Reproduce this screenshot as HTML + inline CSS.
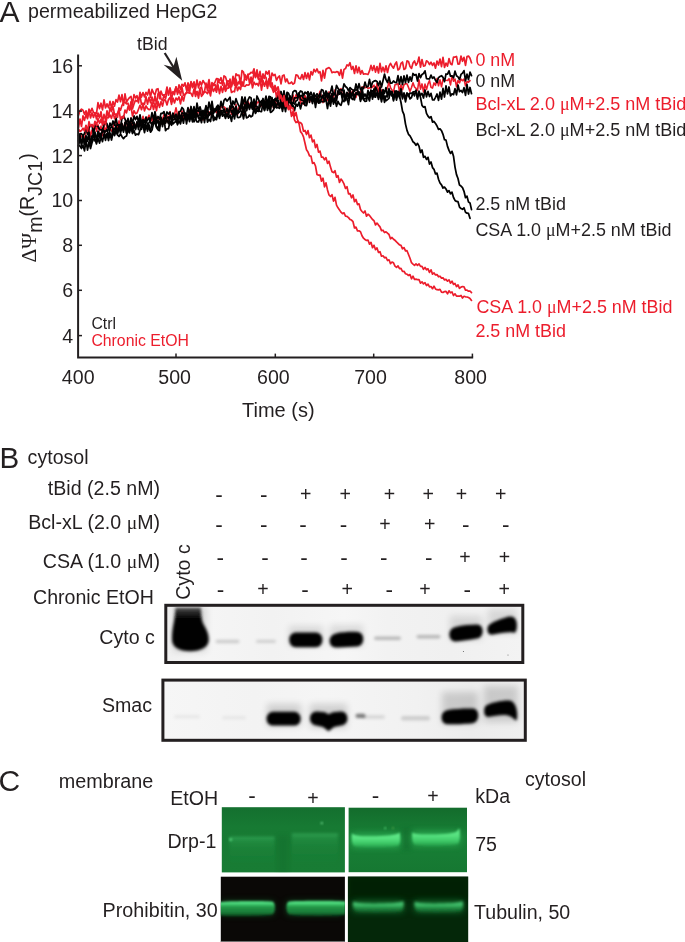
<!DOCTYPE html>
<html lang="en">
<head>
<meta charset="utf-8">
<title>Figure</title>
<style>
html,body{margin:0;padding:0;background:#fff;}
body{width:685px;height:942px;overflow:hidden;}
svg{display:block;}
svg text{font-family:"Liberation Sans",sans-serif;fill:#231f20;}
svg text.red{fill:#ec1d2c;}
.sym{font-family:"Liberation Serif",serif;}
</style>
</head>
<body>
<svg width="685" height="942" viewBox="0 0 685 942">
<defs>
<filter id="b1" x="-30%" y="-60%" width="160%" height="220%"><feGaussianBlur stdDeviation="1.6"/></filter>
<filter id="b2" x="-30%" y="-80%" width="160%" height="260%"><feGaussianBlur stdDeviation="2.4"/></filter>
<filter id="b3" x="-30%" y="-100%" width="160%" height="300%"><feGaussianBlur stdDeviation="1.2"/></filter>
<filter id="b4" x="-30%" y="-100%" width="160%" height="300%"><feGaussianBlur stdDeviation="3.5"/></filter>
</defs>
<rect width="685" height="942" fill="#fff"/>
<g opacity="0.999">

<!-- ================= PANEL A ================= -->
<text x="-0.6" y="21.5" font-size="30">A</text>
<text x="28" y="18.2" font-size="19.6">permeabilized HepG2</text>
<g id="traces">
<polyline points="78.5,135.9 80.0,133.9 81.5,136.9 83.0,135.6 84.5,138.9 86.0,132.5 87.5,131.5 89.0,127.9 90.5,136.5 92.0,130.0 93.5,132.1 95.0,124.9 96.5,131.2 98.0,124.8 99.5,131.0 101.0,126.0 102.5,135.7 104.0,125.7 105.5,131.9 107.0,125.0 108.5,127.8 110.0,128.9 111.5,131.1 113.0,127.7 114.5,122.1 116.0,122.4 117.5,129.5 119.0,120.8 120.5,126.8 122.0,124.2 123.5,129.7 125.0,122.3 126.5,121.3 128.0,130.3 129.5,129.7 131.0,117.8 132.5,126.6 134.0,124.6 135.5,126.1 137.0,122.4 138.5,127.1 140.0,118.3 141.5,124.6 143.0,116.2 144.5,122.0 146.0,117.2 147.5,118.6 149.0,115.2 150.5,122.5 152.0,117.6 153.5,122.5 155.0,115.3 156.5,117.6 158.0,117.8 159.5,125.1 161.0,121.7 162.5,119.5 164.0,114.6 165.5,122.8 167.0,115.7 168.5,121.0 170.0,111.5 171.5,120.2 173.0,116.4 174.5,114.4 176.0,107.7 177.5,114.9 179.0,116.2 180.5,118.4 182.0,110.8 183.5,118.1 185.0,113.6 186.5,120.5 188.0,113.3 189.5,109.6 191.0,113.7 192.5,116.8 194.0,111.9 195.5,114.5 197.0,116.4 198.5,110.1 200.0,112.2 201.5,114.9 203.0,119.9 204.5,118.0 206.0,107.8 207.5,116.9 209.0,111.8 210.5,114.6 212.0,110.9 213.5,111.3 215.0,109.7 216.5,112.6 218.0,107.5 219.5,113.7 221.0,106.0 222.5,107.5 224.0,106.7 225.5,108.3 227.0,113.6 228.5,110.5 230.0,106.3 231.5,114.3 233.0,107.0 234.5,112.0 236.0,104.4 237.5,115.0 239.0,106.7 240.5,109.1 242.0,106.7 243.5,113.6 245.0,102.1 246.5,105.4 248.0,101.4 249.5,105.1 251.0,103.3 252.5,108.0 254.0,110.2 255.5,107.4 257.0,102.8 258.5,101.5 260.0,104.6 261.5,106.0 263.0,101.6 264.5,108.2 266.0,100.7 267.5,102.2 269.0,103.2 270.5,101.6 272.0,100.6 273.5,108.0 275.0,99.5 276.5,106.9 278.0,100.9 279.5,107.5 281.0,101.2 282.5,108.7 284.0,99.6 285.5,103.8 287.0,96.3 288.5,103.3 290.0,98.1 291.5,102.5 293.0,95.0 294.5,101.1 296.0,94.8 297.5,97.9 299.0,95.3 300.5,103.4 302.0,96.3 303.5,104.1 305.0,95.5 306.5,101.0 308.0,95.6 309.5,102.2 311.0,96.8 312.5,101.8 314.0,94.8 315.5,101.4 317.0,101.9 318.5,96.8 320.0,91.3 321.5,97.2 323.0,102.6 324.5,99.0 326.0,93.4 327.5,100.4 329.0,91.9 330.5,99.3 332.0,93.7 333.5,97.2 335.0,89.9 336.5,98.3 338.0,94.3 339.5,89.9 341.0,88.6 342.5,96.7 344.0,92.1 345.5,97.2 347.0,95.8 348.5,95.1 350.0,90.0 351.5,94.4 353.0,90.2 354.5,96.1 356.0,97.4 357.5,91.0 359.0,95.3 360.5,92.5 362.0,87.0 363.5,86.8 365.0,87.7 366.5,87.0 368.0,88.3 369.5,87.9 371.0,88.0 372.5,87.0 374.0,85.2 375.5,91.7 377.0,83.3 378.5,91.9 380.0,86.1 381.5,91.9 383.0,90.2 384.5,91.5 386.0,90.5 387.5,87.8 389.0,81.7 390.5,87.7 392.0,90.1 393.5,91.9 395.0,84.7 396.5,84.4 398.0,83.6 399.5,91.7 401.0,84.8 402.5,89.7 404.0,84.7 405.5,83.8 407.0,83.8 408.5,87.4 410.0,91.4 411.5,87.5 413.0,82.8 414.5,87.0 416.0,88.4 417.5,90.5 419.0,79.7 420.5,89.1 422.0,83.9 423.5,91.9 425.0,84.1 426.5,89.5 428.0,83.9 429.5,80.6 431.0,87.2 432.5,88.1 434.0,82.9 435.5,85.3 437.0,78.5 438.5,85.8 440.0,79.8 441.5,86.8 443.0,79.3 444.5,80.0 446.0,80.3 447.5,80.5 449.0,78.7 450.5,84.9 452.0,75.7 453.5,81.2 455.0,79.0 456.5,86.7 458.0,80.5 459.5,82.9 461.0,79.0 462.5,80.7 464.0,79.0 465.5,85.8 467.0,81.5 468.5,82.2 470.0,80.6" fill="none" stroke="#ec1d2c" stroke-width="1.6" stroke-linejoin="round" stroke-linecap="round"/>
<polyline points="78.5,145.7 80.0,146.0 81.5,148.5 83.0,145.3 84.5,150.8 86.0,140.3 87.5,150.1 89.0,142.0 90.5,148.5 92.0,142.7 93.5,139.2 95.0,139.4 96.5,143.9 98.0,138.2 99.5,143.1 101.0,136.7 102.5,141.7 104.0,134.1 105.5,140.3 107.0,133.6 108.5,140.5 110.0,133.0 111.5,140.0 113.0,133.1 114.5,134.8 116.0,131.1 117.5,135.0 119.0,136.5 120.5,134.0 122.0,136.7 123.5,138.6 125.0,136.7 126.5,136.0 128.0,129.6 129.5,132.8 131.0,127.6 132.5,133.5 134.0,130.6 135.5,135.2 137.0,133.9 138.5,134.7 140.0,130.2 141.5,127.4 143.0,125.6 144.5,132.6 146.0,125.0 147.5,131.1 149.0,124.8 150.5,132.2 152.0,130.0 153.5,123.6 155.0,122.9 156.5,127.5 158.0,129.7 159.5,130.7 161.0,118.6 162.5,126.7 164.0,118.4 165.5,130.7 167.0,128.8 168.5,128.7 170.0,121.1 171.5,125.3 173.0,119.5 174.5,119.5 176.0,120.1 177.5,124.8 179.0,120.9 180.5,123.9 182.0,117.1 183.5,115.0 185.0,115.2 186.5,114.7 188.0,115.4 189.5,121.6 191.0,115.6 192.5,121.9 194.0,115.2 195.5,118.5 197.0,121.9 198.5,121.9 200.0,117.4 201.5,122.7 203.0,113.4 204.5,122.6 206.0,112.6 207.5,122.1 209.0,119.3 210.5,121.6 212.0,112.2 213.5,120.6 215.0,119.0 216.5,119.6 218.0,113.0 219.5,118.3 221.0,111.3 222.5,116.2 224.0,114.1 225.5,118.4 227.0,113.6 228.5,118.1 230.0,114.9 231.5,121.3 233.0,111.7 234.5,118.9 236.0,109.4 237.5,117.3 239.0,117.6 240.5,116.8 242.0,111.0 243.5,118.8 245.0,110.8 246.5,117.9 248.0,117.2 249.5,115.1 251.0,116.8 252.5,115.7 254.0,108.5 255.5,113.4 257.0,110.4 258.5,111.4 260.0,107.0 261.5,103.6 263.0,106.2 264.5,110.0 266.0,102.8 267.5,110.3 269.0,105.1 270.5,112.4 272.0,111.4 273.5,109.8 275.0,106.0 276.5,107.7 278.0,107.7 279.5,107.8 281.0,104.1 282.5,111.4 284.0,103.0 285.5,111.6 287.0,101.6 288.5,105.3 290.0,108.2 291.5,106.5 293.0,105.5 294.5,110.6 296.0,104.1 297.5,106.1 299.0,102.2 300.5,108.8 302.0,103.0 303.5,103.4 305.0,98.3 306.5,104.0 308.0,97.5 309.5,97.4 311.0,98.1 312.5,103.5 314.0,96.3 315.5,107.5 317.0,97.1 318.5,103.0 320.0,99.9 321.5,101.6 323.0,101.6 324.5,101.0 326.0,99.6 327.5,108.5 329.0,99.1 330.5,106.1 332.0,97.2 333.5,104.1 335.0,99.5 336.5,106.3 338.0,101.3 339.5,104.3 341.0,105.3 342.5,100.2 344.0,101.6 345.5,96.4 347.0,98.3 348.5,104.6 350.0,93.9 351.5,98.5 353.0,99.5 354.5,94.6 356.0,94.4 357.5,92.4 359.0,92.0 360.5,101.4 362.0,95.7 363.5,99.7 365.0,101.3 366.5,101.2 368.0,91.6 369.5,92.8 371.0,94.0 372.5,90.8 374.0,90.5 375.5,94.3 377.0,94.6 378.5,97.5 380.0,94.0 381.5,101.8 383.0,94.1 384.5,102.4 386.0,95.9 387.5,96.5 389.0,91.6 390.5,93.9 392.0,96.1 393.5,95.4 395.0,93.0 396.5,100.1 398.0,93.0 399.5,97.8 401.0,89.3 402.5,98.8 404.0,92.9 405.5,98.5 407.0,92.8 408.5,96.5 410.0,93.0 411.5,93.4 413.0,92.2 414.5,91.7 416.0,91.9 417.5,99.0 419.0,91.2 420.5,95.3 422.0,93.4 423.5,98.0 425.0,90.0 426.5,96.8 428.0,91.4 429.5,96.5 431.0,93.4 432.5,99.9 434.0,100.0 435.5,97.3 437.0,94.0 438.5,100.3 440.0,92.1 441.5,99.1 443.0,88.4 444.5,97.0 446.0,85.9 447.5,93.9 449.0,87.0 450.5,95.9 452.0,93.8 453.5,94.7 455.0,88.7 456.5,94.9 458.0,85.0 459.5,91.7 461.0,90.4 462.5,92.6 464.0,87.7 465.5,95.4 467.0,84.4 468.5,94.0 470.0,87.5 471.5,93.7" fill="none" stroke="#000" stroke-width="1.75" stroke-linejoin="round" stroke-linecap="round"/>
<polyline points="78.5,140.8 80.0,135.2 81.5,146.1 83.0,136.6 84.5,144.7 86.0,137.4 87.5,140.4 89.0,132.2 90.5,143.4 92.0,140.4 93.5,132.4 95.0,140.9 96.5,141.4 98.0,133.7 99.5,138.0 101.0,133.1 102.5,131.9 104.0,131.3 105.5,136.8 107.0,133.9 108.5,137.7 110.0,129.1 111.5,126.3 113.0,128.5 114.5,129.4 116.0,126.2 117.5,132.5 119.0,125.5 120.5,129.2 122.0,123.3 123.5,132.1 125.0,122.4 126.5,132.6 128.0,126.4 129.5,130.4 131.0,123.5 132.5,131.0 134.0,122.1 135.5,128.7 137.0,123.0 138.5,126.5 140.0,119.5 141.5,129.3 143.0,121.8 144.5,128.0 146.0,119.8 147.5,120.4 149.0,117.8 150.5,122.5 152.0,124.5 153.5,121.2 155.0,117.3 156.5,123.9 158.0,120.3 159.5,126.6 161.0,117.2 162.5,123.4 164.0,117.8 165.5,123.2 167.0,117.8 168.5,116.9 170.0,122.0 171.5,124.4 173.0,113.5 174.5,119.1 176.0,114.1 177.5,120.2 179.0,112.9 180.5,118.7 182.0,112.9 183.5,113.5 185.0,113.1 186.5,119.9 188.0,114.1 189.5,119.8 191.0,111.5 192.5,119.2 194.0,110.2 195.5,118.8 197.0,110.2 198.5,111.2 200.0,111.1 201.5,118.8 203.0,118.2 204.5,112.7 206.0,108.8 207.5,119.0 209.0,113.6 210.5,112.3 212.0,112.6 213.5,116.2 215.0,118.9 216.5,116.7 218.0,111.1 219.5,113.4 221.0,110.3 222.5,115.1 224.0,108.6 225.5,114.7 227.0,116.1 228.5,114.1 230.0,107.9 231.5,107.2 233.0,106.2 234.5,111.4 236.0,106.3 237.5,113.6 239.0,112.4 240.5,110.9 242.0,101.9 243.5,112.2 245.0,104.6 246.5,110.7 248.0,103.8 249.5,109.4 251.0,103.7 252.5,109.3 254.0,104.0 255.5,106.0 257.0,106.3 258.5,110.2 260.0,111.4 261.5,111.6 263.0,102.7 264.5,110.6 266.0,103.8 267.5,106.8 269.0,103.4 270.5,110.4 272.0,100.9 273.5,107.2 275.0,102.7 276.5,107.7 278.0,100.0 279.5,108.3 281.0,98.1 282.5,106.8 284.0,97.8 285.5,102.6 287.0,96.3 288.5,102.7 290.0,102.2 291.5,105.2 293.0,103.2 294.5,97.8 296.0,98.0 297.5,97.4 299.0,94.8 300.5,96.3 302.0,95.1 303.5,98.6 305.0,98.6 306.5,103.8 308.0,93.3 309.5,102.3 311.0,96.4 312.5,98.6 314.0,93.0 315.5,103.8 317.0,96.2 318.5,102.8 320.0,102.8 321.5,98.2 323.0,95.1 324.5,101.7 326.0,94.2 327.5,95.7 329.0,97.8 330.5,97.4 332.0,94.1 333.5,101.1 335.0,97.8 336.5,97.5 338.0,94.0 339.5,91.9 341.0,92.0 342.5,100.0 344.0,90.2 345.5,100.6 347.0,92.5 348.5,96.4 350.0,91.7 351.5,95.6 353.0,91.8 354.5,99.8 356.0,92.4 357.5,94.5 359.0,93.8 360.5,99.8 362.0,90.8 363.5,99.1 365.0,98.9 366.5,98.1 368.0,97.2 369.5,100.9 371.0,91.0 372.5,99.2 374.0,88.8 375.5,97.2 377.0,92.7 378.5,98.0 380.0,91.6 381.5,99.0 383.0,92.6 384.5,97.4 386.0,100.8 387.5,99.6 389.0,98.4 390.5,91.4 392.0,91.5 393.5,100.8 395.0,92.4 396.5,91.0 398.0,95.1 399.5,96.1 401.0,102.5 402.5,111.2 404.0,114.7 405.5,124.1 407.0,130.4 408.5,134.3 410.0,135.9 411.5,138.7 413.0,141.8 414.5,143.0 416.0,145.3 417.5,143.4 419.0,146.1 420.5,152.5 422.0,150.0 423.5,157.3 425.0,156.3 426.5,159.4 428.0,157.3 429.5,164.1 431.0,162.0 432.5,167.6 434.0,169.3 435.5,173.9 437.0,173.1 438.5,179.2 440.0,183.0 441.5,184.9 443.0,188.0 444.5,187.1 446.0,189.0 447.5,192.1 449.0,190.6 450.5,193.8 452.0,192.2 453.5,197.5 455.0,200.4 456.5,201.4 458.0,201.7 459.5,207.1 461.0,208.5 462.5,209.3 464.0,207.8 465.5,212.2 467.0,213.2 468.5,213.4 470.0,218.3" fill="none" stroke="#000" stroke-width="1.75" stroke-linejoin="round" stroke-linecap="round"/>
<polyline points="78.5,146.0 80.0,138.4 81.5,143.2 83.0,135.5 84.5,144.7 86.0,135.7 87.5,141.4 89.0,135.0 90.5,144.0 92.0,135.9 93.5,137.0 95.0,132.2 96.5,140.8 98.0,131.2 99.5,133.6 101.0,137.6 102.5,129.3 104.0,130.8 105.5,131.8 107.0,129.5 108.5,134.6 110.0,136.2 111.5,137.2 113.0,128.3 114.5,135.7 116.0,124.8 117.5,134.0 119.0,127.2 120.5,133.1 122.0,127.4 123.5,130.8 125.0,124.1 126.5,133.4 128.0,123.4 129.5,129.0 131.0,126.1 132.5,131.8 134.0,124.5 135.5,129.6 137.0,121.7 138.5,129.7 140.0,120.9 141.5,127.6 143.0,123.4 144.5,128.6 146.0,126.9 147.5,125.7 149.0,129.2 150.5,130.8 152.0,122.6 153.5,122.0 155.0,121.3 156.5,126.6 158.0,128.4 159.5,123.4 161.0,119.8 162.5,124.2 164.0,119.1 165.5,122.1 167.0,120.2 168.5,123.6 170.0,116.6 171.5,119.5 173.0,123.9 174.5,122.3 176.0,121.6 177.5,122.2 179.0,114.9 180.5,121.0 182.0,116.8 183.5,123.2 185.0,113.0 186.5,123.9 188.0,115.9 189.5,114.0 191.0,112.5 192.5,115.3 194.0,121.9 195.5,119.1 197.0,113.8 198.5,118.1 200.0,111.5 201.5,116.0 203.0,110.3 204.5,115.2 206.0,106.7 207.5,109.7 209.0,115.3 210.5,113.6 212.0,106.2 213.5,113.4 215.0,108.6 216.5,110.7 218.0,107.1 219.5,115.6 221.0,111.2 222.5,110.4 224.0,111.0 225.5,112.8 227.0,108.4 228.5,114.1 230.0,106.0 231.5,112.6 233.0,110.0 234.5,115.7 236.0,109.4 237.5,112.9 239.0,109.8 240.5,105.9 242.0,107.9 243.5,111.5 245.0,105.1 246.5,110.3 248.0,103.0 249.5,108.3 251.0,102.5 252.5,108.8 254.0,104.6 255.5,111.5 257.0,107.7 258.5,109.0 260.0,102.0 261.5,102.6 263.0,98.5 264.5,105.7 266.0,101.3 267.5,107.3 269.0,98.0 270.5,105.3 272.0,97.6 273.5,105.9 275.0,98.6 276.5,101.0 278.0,95.6 279.5,98.5 281.0,98.8 282.5,102.1 284.0,96.6 285.5,105.3 287.0,93.8 288.5,102.7 290.0,95.9 291.5,103.9 293.0,102.6 294.5,104.0 296.0,101.1 297.5,100.1 299.0,92.9 300.5,99.4 302.0,100.3 303.5,100.5 305.0,105.5 306.5,105.6 308.0,95.7 309.5,99.1 311.0,98.0 312.5,99.3 314.0,99.6 315.5,99.1 317.0,98.5 318.5,100.9 320.0,93.3 321.5,98.8 323.0,95.6 324.5,95.2 326.0,93.1 327.5,98.7 329.0,93.5 330.5,101.3 332.0,93.5 333.5,93.3 335.0,93.6 336.5,100.8 338.0,90.7 339.5,94.1 341.0,92.6 342.5,97.5 344.0,91.1 345.5,100.2 347.0,92.7 348.5,98.4 350.0,90.2 351.5,97.7 353.0,92.0 354.5,90.5 356.0,89.8 357.5,90.4 359.0,92.4 360.5,97.2 362.0,87.3 363.5,97.5 365.0,94.0 366.5,97.8 368.0,90.4 369.5,97.9 371.0,90.0 372.5,94.7 374.0,97.1 375.5,87.2 377.0,90.4 378.5,99.3 380.0,87.3 381.5,97.3 383.0,89.7 384.5,93.2 386.0,87.6 387.5,96.8 389.0,88.7 390.5,93.7 392.0,92.6 393.5,99.5 395.0,90.9 396.5,96.5 398.0,91.3 399.5,95.4 401.0,88.8 402.5,97.0 404.0,94.2 405.5,101.9 407.0,94.9 408.5,94.0 410.0,98.9 411.5,97.5 413.0,92.5 414.5,95.9 416.0,90.1 417.5,97.0 419.0,93.4 420.5,97.3 422.0,105.4 423.5,107.2 425.0,106.6 426.5,113.4 428.0,116.2 429.5,117.9 431.0,116.6 432.5,122.1 434.0,121.4 435.5,123.4 437.0,126.0 438.5,129.4 440.0,128.8 441.5,130.7 443.0,134.3 444.5,139.7 446.0,140.1 447.5,146.4 449.0,150.4 450.5,153.4 452.0,151.3 453.5,156.2 455.0,167.1 456.5,174.6 458.0,178.5 459.5,185.1 461.0,186.1 462.5,187.6 464.0,191.3 465.5,197.7 467.0,196.2 468.5,202.1 470.0,202.9 471.5,209.6" fill="none" stroke="#000" stroke-width="1.75" stroke-linejoin="round" stroke-linecap="round"/>
<polyline points="78.5,135.2 80.0,133.9 81.5,133.7 83.0,135.7 84.5,133.5 86.0,126.3 87.5,134.2 89.0,127.2 90.5,125.5 92.0,125.1 93.5,134.5 95.0,124.8 96.5,126.0 98.0,126.4 99.5,129.5 101.0,129.9 102.5,129.7 104.0,124.8 105.5,121.9 107.0,123.8 108.5,130.0 110.0,123.1 111.5,126.5 113.0,121.0 114.5,125.2 116.0,117.9 117.5,125.3 119.0,124.6 120.5,126.9 122.0,118.0 123.5,116.0 125.0,119.0 126.5,123.8 128.0,118.4 129.5,125.8 131.0,118.1 132.5,123.5 134.0,115.8 135.5,119.7 137.0,116.4 138.5,122.0 140.0,114.9 141.5,122.8 143.0,119.6 144.5,122.3 146.0,117.2 147.5,126.2 149.0,122.6 150.5,120.2 152.0,112.7 153.5,119.6 155.0,111.6 156.5,120.3 158.0,116.5 159.5,119.4 161.0,113.4 162.5,113.3 164.0,111.7 165.5,118.2 167.0,112.0 168.5,114.0 170.0,112.3 171.5,119.8 173.0,113.2 174.5,117.5 176.0,119.5 177.5,119.0 179.0,111.7 180.5,111.3 182.0,107.5 183.5,109.4 185.0,116.4 186.5,115.1 188.0,107.7 189.5,115.6 191.0,106.5 192.5,114.4 194.0,106.7 195.5,114.4 197.0,103.1 198.5,110.9 200.0,106.8 201.5,112.3 203.0,111.9 204.5,113.1 206.0,105.6 207.5,111.9 209.0,102.1 210.5,109.7 212.0,101.4 213.5,111.3 215.0,111.8 216.5,107.0 218.0,105.1 219.5,109.7 221.0,101.4 222.5,107.8 224.0,100.3 225.5,98.7 227.0,101.1 228.5,99.3 230.0,97.2 231.5,108.0 233.0,101.0 234.5,104.5 236.0,98.7 237.5,103.2 239.0,106.0 240.5,107.5 242.0,96.9 243.5,103.8 245.0,97.2 246.5,106.0 248.0,99.9 249.5,97.0 251.0,97.8 252.5,107.1 254.0,99.1 255.5,106.7 257.0,96.0 258.5,99.4 260.0,102.9 261.5,100.8 263.0,103.0 264.5,102.1 266.0,96.1 267.5,104.3 269.0,96.4 270.5,96.8 272.0,103.1 273.5,99.9 275.0,100.5 276.5,97.2 278.0,95.0 279.5,99.6 281.0,91.5 282.5,99.2 284.0,90.8 285.5,101.3 287.0,92.3 288.5,93.2 290.0,97.2 291.5,99.8 293.0,91.9 294.5,90.6 296.0,90.9 297.5,95.6 299.0,93.5 300.5,91.0 302.0,91.6 303.5,95.9 305.0,92.1 306.5,93.7 308.0,91.6 309.5,95.9 311.0,92.2 312.5,96.2 314.0,97.1 315.5,96.1 317.0,93.8 318.5,96.1 320.0,95.9 321.5,89.6 323.0,90.2 324.5,95.9 326.0,91.0 327.5,93.9 329.0,94.8 330.5,92.3 332.0,86.2 333.5,95.0 335.0,93.9 336.5,85.3 338.0,88.4 339.5,90.3 341.0,89.7 342.5,90.8 344.0,83.9 345.5,86.5 347.0,87.7 348.5,90.8 350.0,87.6 351.5,89.2 353.0,89.9 354.5,91.2 356.0,84.0 357.5,90.3 359.0,83.7 360.5,89.6 362.0,88.0 363.5,88.6 365.0,82.1 366.5,87.0 368.0,86.5 369.5,79.4 371.0,87.4 372.5,82.3 374.0,81.1 375.5,80.6 377.0,81.4 378.5,85.7 380.0,81.1 381.5,87.0 383.0,80.8 384.5,74.1 386.0,79.7 387.5,82.5 389.0,77.0 390.5,83.2 392.0,83.1 393.5,80.9 395.0,82.4 396.5,82.7 398.0,75.7 399.5,84.1 401.0,76.6 402.5,84.7 404.0,75.9 405.5,82.7 407.0,75.2 408.5,82.3 410.0,76.9 411.5,81.1 413.0,73.5 414.5,75.2 416.0,74.4 417.5,81.0 419.0,73.6 420.5,77.6 422.0,74.4 423.5,73.5 425.0,70.8 426.5,78.7 428.0,78.8 429.5,78.8 431.0,75.1 432.5,78.3 434.0,77.0 435.5,80.3 437.0,82.5 438.5,77.6 440.0,76.5 441.5,75.7 443.0,77.3 444.5,81.6 446.0,74.0 447.5,74.1 449.0,70.8 450.5,76.2 452.0,75.8 453.5,77.7 455.0,71.2 456.5,75.8 458.0,76.9 459.5,79.5 461.0,74.4 462.5,73.1 464.0,70.6 465.5,80.8 467.0,74.2 468.5,79.7 470.0,72.2 471.5,75.7" fill="none" stroke="#000" stroke-width="1.75" stroke-linejoin="round" stroke-linecap="round"/>
<polyline points="78.5,115.3 80.0,110.6 81.5,109.1 83.0,110.2 84.5,114.1 86.0,110.8 87.5,117.0 89.0,109.2 90.5,112.4 92.0,108.3 93.5,112.5 95.0,113.1 96.5,113.5 98.0,102.7 99.5,108.6 101.0,103.2 102.5,109.8 104.0,99.9 105.5,108.0 107.0,103.9 108.5,107.8 110.0,101.4 111.5,107.9 113.0,101.5 114.5,106.1 116.0,99.6 117.5,102.0 119.0,95.2 120.5,101.7 122.0,94.6 123.5,105.4 125.0,93.8 126.5,102.2 128.0,99.5 129.5,97.6 131.0,96.4 132.5,104.4 134.0,94.7 135.5,98.0 137.0,95.6 138.5,102.9 140.0,92.3 141.5,97.1 143.0,92.5 144.5,96.9 146.0,92.3 147.5,95.0 149.0,89.3 150.5,97.4 152.0,89.3 153.5,92.9 155.0,94.9 156.5,89.3 158.0,88.7 159.5,98.7 161.0,91.2 162.5,95.2 164.0,94.8 165.5,94.5 167.0,87.0 168.5,95.2 170.0,87.9 171.5,93.7 173.0,93.4 174.5,91.6 176.0,87.0 177.5,92.1 179.0,84.8 180.5,89.5 182.0,84.3 183.5,86.2 185.0,82.8 186.5,90.0 188.0,82.8 189.5,87.8 191.0,82.4 192.5,85.8 194.0,81.8 195.5,88.8 197.0,80.0 198.5,87.8 200.0,81.6 201.5,85.1 203.0,80.5 204.5,83.2 206.0,85.9 207.5,86.3 209.0,79.7 210.5,88.5 212.0,86.4 213.5,84.0 215.0,82.2 216.5,78.6 218.0,78.8 219.5,80.8 221.0,77.7 222.5,85.1 224.0,75.9 225.5,77.0 227.0,81.7 228.5,80.9 230.0,82.3 231.5,85.3 233.0,76.3 234.5,82.7 236.0,73.8 237.5,75.3 239.0,75.2 240.5,84.1 242.0,70.7 243.5,72.1 245.0,79.1 246.5,80.1 248.0,74.9 249.5,74.1 251.0,72.4 252.5,73.0 254.0,68.9 255.5,77.6 257.0,69.9 258.5,79.4 260.0,71.3 261.5,80.7 263.0,73.9 264.5,78.4 266.0,71.4 267.5,74.0 269.0,70.8 270.5,83.4 272.0,73.0 273.5,75.6 275.0,74.4 276.5,80.4 278.0,77.3 279.5,76.0 281.0,83.9 282.5,75.7 284.0,75.0 285.5,81.9 287.0,78.9 288.5,83.3 290.0,83.4 291.5,82.0 293.0,84.2 294.5,83.0 296.0,74.8 297.5,75.2 299.0,78.3 300.5,78.9 302.0,74.6 303.5,79.5 305.0,72.7 306.5,78.5 308.0,73.0 309.5,79.8 311.0,71.7 312.5,74.9 314.0,69.3 315.5,71.9 317.0,68.9 318.5,72.8 320.0,71.7 321.5,80.8 323.0,70.3 324.5,78.1 326.0,69.3 327.5,68.2 329.0,67.6 330.5,69.0 332.0,72.6 333.5,72.0 335.0,72.4 336.5,71.7 338.0,71.8 339.5,75.3 341.0,69.6 342.5,78.1 344.0,69.4 345.5,68.6 347.0,64.9 348.5,65.9 350.0,62.7 351.5,69.4 353.0,66.5 354.5,73.5 356.0,65.8 357.5,72.7 359.0,67.2 360.5,74.1 362.0,70.6 363.5,74.2 365.0,73.8 366.5,74.0 368.0,74.5 369.5,70.9 371.0,65.4 372.5,70.4 374.0,65.6 375.5,72.1 377.0,66.5 378.5,73.0 380.0,63.4 381.5,71.8 383.0,67.2 384.5,72.0 386.0,65.8 387.5,72.5 389.0,66.1 390.5,63.3 392.0,66.2 393.5,68.1 395.0,64.3 396.5,62.0 398.0,70.0 399.5,68.9 401.0,63.4 402.5,62.0 404.0,69.5 405.5,68.6 407.0,60.9 408.5,61.5 410.0,66.5 411.5,68.4 413.0,63.0 414.5,60.9 416.0,65.3 417.5,62.9 419.0,57.0 420.5,67.1 422.0,59.5 423.5,66.1 425.0,65.7 426.5,60.8 428.0,61.9 429.5,64.5 431.0,62.2 432.5,65.4 434.0,62.9 435.5,68.2 437.0,61.0 438.5,65.0 440.0,59.0 441.5,66.7 443.0,57.3 444.5,67.4 446.0,63.0 447.5,66.2 449.0,58.6 450.5,63.7 452.0,64.7 453.5,57.1 455.0,57.1 456.5,56.4 458.0,64.2 459.5,63.9 461.0,56.0 462.5,61.3 464.0,57.3 465.5,65.3 467.0,56.6 468.5,56.0 470.0,58.3 471.5,62.8" fill="none" stroke="#ec1d2c" stroke-width="1.7" stroke-linejoin="round" stroke-linecap="round"/>
<polyline points="78.5,127.7 80.0,119.0 81.5,126.5 83.0,115.8 84.5,120.4 86.0,114.4 87.5,118.7 89.0,110.4 90.5,117.9 92.0,112.9 93.5,117.4 95.0,112.5 96.5,119.0 98.0,113.0 99.5,117.7 101.0,111.7 102.5,122.4 104.0,114.4 105.5,120.1 107.0,110.8 108.5,117.5 110.0,107.7 111.5,111.5 113.0,106.3 114.5,114.4 116.0,114.0 117.5,117.3 119.0,107.9 120.5,110.3 122.0,105.3 123.5,102.6 125.0,102.2 126.5,103.8 128.0,103.2 129.5,110.1 131.0,101.7 132.5,108.8 134.0,104.0 135.5,100.1 137.0,101.3 138.5,99.3 140.0,95.8 141.5,104.5 143.0,103.1 144.5,104.3 146.0,96.6 147.5,104.2 149.0,97.4 150.5,102.8 152.0,97.0 153.5,103.6 155.0,96.0 156.5,104.0 158.0,93.8 159.5,92.5 161.0,99.0 162.5,100.7 164.0,95.2 165.5,98.7 167.0,92.5 168.5,92.5 170.0,91.8 171.5,99.7 173.0,91.5 174.5,94.7 176.0,86.9 177.5,94.3 179.0,90.1 180.5,95.1 182.0,87.3 183.5,95.5 185.0,94.3 186.5,92.8 188.0,87.0 189.5,93.2 191.0,81.5 192.5,87.7 194.0,83.5 195.5,93.7 197.0,91.9 198.5,94.8 200.0,88.4 201.5,86.9 203.0,93.6 204.5,91.3 206.0,83.2 207.5,90.6 209.0,84.2 210.5,91.8 212.0,82.5 213.5,85.6 215.0,84.3 216.5,90.0 218.0,80.1 219.5,82.8 221.0,83.4 222.5,81.0 224.0,83.1 225.5,89.9 227.0,80.8 228.5,87.4 230.0,79.0 231.5,86.8 233.0,80.5 234.5,85.1 236.0,79.1 237.5,85.0 239.0,81.5 240.5,84.4 242.0,86.2 243.5,84.8 245.0,74.5 246.5,78.3 248.0,74.1 249.5,83.2 251.0,77.1 252.5,81.9 254.0,72.1 255.5,76.9 257.0,74.5 258.5,78.6 260.0,80.4 261.5,81.9 263.0,77.8 264.5,76.4 266.0,77.4 267.5,86.4 269.0,78.5 270.5,86.4 272.0,82.7 273.5,89.4 275.0,85.5 276.5,90.2 278.0,86.8 279.5,93.5 281.0,97.2 282.5,101.4 284.0,95.5 285.5,104.6 287.0,106.1 288.5,108.9 290.0,105.1 291.5,107.8 293.0,108.1 294.5,116.2 296.0,112.5 297.5,119.8 299.0,122.5 300.5,122.6 302.0,124.4 303.5,131.2 305.0,130.4 306.5,134.5 308.0,130.6 309.5,137.7 311.0,135.1 312.5,141.8 314.0,140.0 315.5,147.6 317.0,144.4 318.5,152.2 320.0,151.1 321.5,157.2 323.0,157.1 324.5,159.8 326.0,157.6 327.5,163.4 329.0,161.2 330.5,167.1 332.0,171.7 333.5,172.6 335.0,170.7 336.5,177.1 338.0,175.6 339.5,182.5 341.0,179.1 342.5,181.1 344.0,183.9 345.5,188.4 347.0,186.7 348.5,193.9 350.0,193.5 351.5,197.8 353.0,195.0 354.5,201.7 356.0,199.4 357.5,204.6 359.0,203.8 360.5,209.5 362.0,211.5 363.5,213.0 365.0,211.0 366.5,216.2 368.0,214.2 369.5,215.5 371.0,217.5 372.5,219.5 374.0,220.7 375.5,224.9 377.0,223.1 378.5,225.1 380.0,226.9 381.5,230.6 383.0,230.2 384.5,232.6 386.0,231.8 387.5,233.2 389.0,234.5 390.5,238.8 392.0,237.5 393.5,239.2 395.0,240.3 396.5,241.9 398.0,243.3 399.5,244.9 401.0,245.3 402.5,248.8 404.0,247.6 405.5,250.9 407.0,250.7 408.5,254.5 410.0,258.2 411.5,262.7 413.0,264.1 414.5,265.3 416.0,263.8 417.5,265.3 419.0,263.9 420.5,266.4 422.0,266.3 423.5,269.3 425.0,267.5 426.5,269.8 428.0,268.8 429.5,272.4 431.0,269.8 432.5,274.1 434.0,272.9 435.5,274.9 437.0,274.6 438.5,276.8 440.0,276.2 441.5,278.1 443.0,277.8 444.5,279.9 446.0,279.4 447.5,281.2 449.0,279.9 450.5,283.1 452.0,281.2 453.5,284.4 455.0,283.5 456.5,286.6 458.0,284.9 459.5,288.3 461.0,287.1 462.5,286.5 464.0,286.8 465.5,290.2 467.0,290.1 468.5,291.2 470.0,291.0 471.5,292.6" fill="none" stroke="#ec1d2c" stroke-width="1.7" stroke-linejoin="round" stroke-linecap="round"/>
<polyline points="78.5,129.1 80.0,131.5 81.5,130.6 83.0,128.2 84.5,131.0 86.0,125.3 87.5,131.3 89.0,121.7 90.5,126.6 92.0,124.5 93.5,127.3 95.0,121.3 96.5,125.7 98.0,118.4 99.5,123.3 101.0,119.2 102.5,125.1 104.0,121.0 105.5,124.7 107.0,117.4 108.5,117.7 110.0,115.0 111.5,118.4 113.0,112.4 114.5,118.6 116.0,115.3 117.5,113.2 119.0,109.9 120.5,119.6 122.0,116.6 123.5,118.1 125.0,110.0 126.5,112.9 128.0,106.6 129.5,109.7 131.0,106.9 132.5,116.0 134.0,110.7 135.5,113.7 137.0,113.0 138.5,109.2 140.0,105.3 141.5,109.7 143.0,104.2 144.5,110.8 146.0,105.9 147.5,108.5 149.0,109.7 150.5,109.1 152.0,102.3 153.5,109.5 155.0,103.3 156.5,110.6 158.0,101.4 159.5,107.4 161.0,101.6 162.5,106.1 164.0,99.9 165.5,100.2 167.0,104.9 168.5,99.5 170.0,97.5 171.5,104.4 173.0,98.0 174.5,103.0 176.0,98.0 177.5,100.0 179.0,96.9 180.5,103.9 182.0,96.0 183.5,101.0 185.0,94.4 186.5,92.6 188.0,92.6 189.5,92.8 191.0,93.3 192.5,96.3 194.0,89.0 195.5,96.4 197.0,91.4 198.5,98.1 200.0,89.4 201.5,96.3 203.0,94.2 204.5,91.7 206.0,92.1 207.5,93.6 209.0,90.0 210.5,95.9 212.0,86.4 213.5,91.5 215.0,88.1 216.5,92.1 218.0,84.8 219.5,93.7 221.0,86.3 222.5,92.4 224.0,85.8 225.5,91.3 227.0,88.1 228.5,88.2 230.0,85.2 231.5,92.5 233.0,91.3 234.5,91.8 236.0,83.2 237.5,90.6 239.0,87.0 240.5,89.5 242.0,81.7 243.5,86.0 245.0,86.3 246.5,84.8 248.0,85.2 249.5,84.4 251.0,78.9 252.5,87.8 254.0,82.1 255.5,84.7 257.0,83.5 258.5,85.9 260.0,78.6 261.5,90.1 263.0,80.5 264.5,86.2 266.0,81.0 267.5,88.4 269.0,79.5 270.5,86.1 272.0,87.9 273.5,92.3 275.0,88.1 276.5,96.9 278.0,90.9 279.5,99.2 281.0,95.5 282.5,100.7 284.0,99.6 285.5,106.5 287.0,101.4 288.5,109.7 290.0,106.6 291.5,116.3 293.0,111.5 294.5,119.8 296.0,122.6 297.5,121.7 299.0,123.4 300.5,131.6 302.0,133.5 303.5,136.9 305.0,143.3 306.5,149.8 308.0,152.0 309.5,155.9 311.0,156.1 312.5,163.3 314.0,162.6 315.5,166.0 317.0,174.5 318.5,175.2 320.0,175.0 321.5,181.2 323.0,178.2 324.5,186.9 326.0,182.9 327.5,189.9 329.0,195.0 330.5,196.5 332.0,194.7 333.5,201.1 335.0,197.4 336.5,205.1 338.0,207.8 339.5,209.9 341.0,212.2 342.5,213.7 344.0,212.8 345.5,216.2 347.0,216.4 348.5,217.6 350.0,219.4 351.5,220.1 353.0,221.7 354.5,228.0 356.0,227.1 357.5,231.0 359.0,230.8 360.5,231.7 362.0,235.7 363.5,238.2 365.0,239.5 366.5,240.4 368.0,240.0 369.5,244.2 371.0,242.3 372.5,247.7 374.0,245.3 375.5,249.7 377.0,247.9 378.5,252.5 380.0,251.7 381.5,256.2 383.0,255.8 384.5,257.8 386.0,257.3 387.5,260.5 389.0,259.8 390.5,263.6 392.0,262.0 393.5,262.8 395.0,266.1 396.5,267.3 398.0,265.9 399.5,268.6 401.0,268.4 402.5,271.5 404.0,271.3 405.5,273.7 407.0,274.2 408.5,275.5 410.0,274.6 411.5,278.8 413.0,276.2 414.5,279.5 416.0,279.1 417.5,279.7 419.0,279.7 420.5,283.1 422.0,281.8 423.5,283.9 425.0,282.7 426.5,285.6 428.0,284.2 429.5,286.9 431.0,286.5 432.5,288.7 434.0,286.2 435.5,288.9 437.0,289.7 438.5,289.9 440.0,289.4 441.5,292.2 443.0,292.5 444.5,291.6 446.0,291.4 447.5,293.8 449.0,290.8 450.5,292.8 452.0,292.0 453.5,295.5 455.0,293.8 456.5,296.1 458.0,296.0 459.5,296.2 461.0,295.4 462.5,298.0 464.0,296.3 465.5,296.8 467.0,297.0 468.5,297.5 470.0,298.4 471.5,300.4" fill="none" stroke="#ec1d2c" stroke-width="1.7" stroke-linejoin="round" stroke-linecap="round"/>
</g>
<g id="axis">
<path d="M78.1 54.4V357.6H473.2" fill="none" stroke="#231f20" stroke-width="2"/>
<line x1="78" y1="65.8" x2="82" y2="65.8" stroke="#231f20" stroke-width="1.5"/>
<text x="73.2" y="72.7" text-anchor="end" font-size="19.6">16</text>
<line x1="78" y1="111.1" x2="82" y2="111.1" stroke="#231f20" stroke-width="1.5"/>
<text x="73.2" y="118.0" text-anchor="end" font-size="19.6">14</text>
<line x1="78" y1="155.6" x2="82" y2="155.6" stroke="#231f20" stroke-width="1.5"/>
<text x="73.2" y="162.5" text-anchor="end" font-size="19.6">12</text>
<line x1="78" y1="200.5" x2="82" y2="200.5" stroke="#231f20" stroke-width="1.5"/>
<text x="73.2" y="207.4" text-anchor="end" font-size="19.6">10</text>
<line x1="78" y1="245.3" x2="82" y2="245.3" stroke="#231f20" stroke-width="1.5"/>
<text x="73.2" y="252.2" text-anchor="end" font-size="19.6">8</text>
<line x1="78" y1="290.3" x2="82" y2="290.3" stroke="#231f20" stroke-width="1.5"/>
<text x="73.2" y="297.2" text-anchor="end" font-size="19.6">6</text>
<line x1="78" y1="335.6" x2="82" y2="335.6" stroke="#231f20" stroke-width="1.5"/>
<text x="73.2" y="342.5" text-anchor="end" font-size="19.6">4</text>
<text x="78.2" y="383.8" text-anchor="middle" font-size="19.6">400</text>
<line x1="176" y1="357" x2="176" y2="353.6" stroke="#231f20" stroke-width="1.5"/>
<text x="174.6" y="383.8" text-anchor="middle" font-size="19.6">500</text>
<line x1="275.3" y1="357" x2="275.3" y2="353.6" stroke="#231f20" stroke-width="1.5"/>
<text x="273.4" y="383.8" text-anchor="middle" font-size="19.6">600</text>
<line x1="373.7" y1="357" x2="373.7" y2="353.6" stroke="#231f20" stroke-width="1.5"/>
<text x="370.5" y="383.8" text-anchor="middle" font-size="19.6">700</text>
<line x1="472.4" y1="357" x2="472.4" y2="353.6" stroke="#231f20" stroke-width="1.5"/>
<text x="470.6" y="383.8" text-anchor="middle" font-size="19.6">800</text>
</g>
<text x="137" y="50.2" font-size="17.7">tBid</text>
<line x1="164.7" y1="53" x2="174" y2="68" stroke="#231f20" stroke-width="2.2"/>
<path d="M182.2 80.8L163.6 64.8L173.2 67.2L176.4 56.8Z" fill="#231f20"/>

<text transform="translate(36 262.5) rotate(-90)" font-size="19.6"><tspan class="sym" font-size="21.5">ΔΨ</tspan><tspan dy="6.2">m</tspan><tspan dy="-7.9">(R</tspan><tspan dy="7.9">JC1</tspan><tspan dy="-7.9" dx="1.2">)</tspan></text>

<text x="242" y="416.6" font-size="19.6" textLength="72.6" lengthAdjust="spacingAndGlyphs">Time (s)</text>
<text x="91.4" y="328.8" font-size="15.8">Ctrl</text>
<text x="91.4" y="346.3" font-size="15.8" class="red">Chronic EtOH</text>

<text x="475.4" y="65.8" font-size="17.9" class="red">0 nM</text>
<text x="475.4" y="87.3" font-size="17.9">0 nM</text>
<text x="475.4" y="110" font-size="17.9" class="red" textLength="211" lengthAdjust="spacingAndGlyphs">Bcl-xL 2.0 <tspan class="sym">μ</tspan>M+2.5 nM tBid</text>
<text x="475.4" y="136.3" font-size="17.9" textLength="211" lengthAdjust="spacingAndGlyphs">Bcl-xL 2.0 <tspan class="sym">μ</tspan>M+2.5 nM tBid</text>
<text x="475.4" y="210.2" font-size="17.9">2.5 nM tBid</text>
<text x="475.4" y="235.6" font-size="17.9">CSA 1.0 <tspan class="sym">μ</tspan>M+2.5 nM tBid</text>
<text x="476.4" y="312.7" font-size="17.9" class="red">CSA 1.0 <tspan class="sym">μ</tspan>M+2.5 nM tBid</text>
<text x="475.4" y="337.2" font-size="17.9" class="red">2.5 nM tBid</text>

<!-- ================= PANEL B ================= -->
<text x="-0.5" y="467.7" font-size="29.6">B</text>
<text x="27.6" y="463.6" font-size="19.6">cytosol</text>
<text x="160" y="494.5" font-size="19.6" text-anchor="end">tBid (2.5 nM)</text>
<text x="160" y="529" font-size="19.6" text-anchor="end">Bcl-xL (2.0 <tspan class="sym">μ</tspan>M)</text>
<text x="160" y="568.3" font-size="19.6" text-anchor="end">CSA (1.0 <tspan class="sym">μ</tspan>M)</text>
<text x="33" y="603.9" font-size="19.6">Chronic EtOH</text>
<text transform="translate(190.4 599.8) rotate(-90)" font-size="19.6">Cyto c</text>
<g id="signs">
<text x="219" y="501.55" text-anchor="middle" font-size="22.6">-</text>
<text x="263.8" y="501.55" text-anchor="middle" font-size="22.6">-</text>
<text x="305.7" y="501.0" text-anchor="middle" font-size="19.6">+</text>
<text x="345.2" y="501.0" text-anchor="middle" font-size="19.6">+</text>
<text x="389.5" y="501.0" text-anchor="middle" font-size="19.6">+</text>
<text x="428.3" y="501.0" text-anchor="middle" font-size="19.6">+</text>
<text x="461.6" y="501.0" text-anchor="middle" font-size="19.6">+</text>
<text x="500.7" y="501.0" text-anchor="middle" font-size="19.6">+</text>
<text x="219" y="531.85" text-anchor="middle" font-size="22.6">-</text>
<text x="263.8" y="531.85" text-anchor="middle" font-size="22.6">-</text>
<text x="303" y="531.85" text-anchor="middle" font-size="22.6">-</text>
<text x="343.4" y="531.85" text-anchor="middle" font-size="22.6">-</text>
<text x="385.1" y="531.3" text-anchor="middle" font-size="19.6">+</text>
<text x="429.8" y="531.3" text-anchor="middle" font-size="19.6">+</text>
<text x="465.8" y="531.85" text-anchor="middle" font-size="22.6">-</text>
<text x="505.7" y="531.85" text-anchor="middle" font-size="22.6">-</text>
<text x="220.2" y="564.65" text-anchor="middle" font-size="22.6">-</text>
<text x="265.1" y="564.65" text-anchor="middle" font-size="22.6">-</text>
<text x="304" y="564.65" text-anchor="middle" font-size="22.6">-</text>
<text x="344" y="564.65" text-anchor="middle" font-size="22.6">-</text>
<text x="383.8" y="564.65" text-anchor="middle" font-size="22.6">-</text>
<text x="428.8" y="564.65" text-anchor="middle" font-size="22.6">-</text>
<text x="465.1" y="564.1" text-anchor="middle" font-size="19.6">+</text>
<text x="504.5" y="564.1" text-anchor="middle" font-size="19.6">+</text>
<text x="220.4" y="596.55" text-anchor="middle" font-size="22.6">-</text>
<text x="262.9" y="596.0" text-anchor="middle" font-size="19.6">+</text>
<text x="305.1" y="596.55" text-anchor="middle" font-size="22.6">-</text>
<text x="347.3" y="596.0" text-anchor="middle" font-size="19.6">+</text>
<text x="389.3" y="596.55" text-anchor="middle" font-size="22.6">-</text>
<text x="425.1" y="596.0" text-anchor="middle" font-size="19.6">+</text>
<text x="467.3" y="596.55" text-anchor="middle" font-size="22.6">-</text>
<text x="504.2" y="596.0" text-anchor="middle" font-size="19.6">+</text>
</g>
<text x="99.3" y="644.4" font-size="19.6">Cyto c</text>
<text x="101.9" y="711.8" font-size="19.6">Smac</text>

<!-- Cyto c blot -->
<defs>
<linearGradient id="bg1" x1="0" x2="1" y1="0" y2="0">
<stop offset="0" stop-color="#f0f0f0"/><stop offset="0.12" stop-color="#f5f5f5"/><stop offset="0.3" stop-color="#f2f2f2"/><stop offset="0.5" stop-color="#f6f6f6"/><stop offset="0.62" stop-color="#f2f2f2"/><stop offset="0.8" stop-color="#f0f0f0"/><stop offset="1" stop-color="#f3f3f3"/>
</linearGradient>
<linearGradient id="bg2" x1="0" x2="1" y1="0" y2="0">
<stop offset="0" stop-color="#f6f6f6"/><stop offset="0.25" stop-color="#f3f3f3"/><stop offset="0.45" stop-color="#f5f5f5"/><stop offset="0.7" stop-color="#f1f1f1"/><stop offset="0.85" stop-color="#ececec"/><stop offset="1" stop-color="#efefef"/>
</linearGradient>
<linearGradient id="blobg" gradientUnits="userSpaceOnUse" x1="0" y1="606" x2="0" y2="620"><stop offset="0" stop-color="#6a6a6a"/><stop offset="0.5" stop-color="#1c1c1c"/><stop offset="1" stop-color="#000"/></linearGradient>
<clipPath id="c1"><rect x="167.3" y="606.8" width="354" height="54.2"/></clipPath>
<clipPath id="c2"><rect x="164.4" y="681.6" width="359.4" height="57.2"/></clipPath>
</defs>
<rect x="165.8" y="605.3" width="357" height="57.2" fill="url(#bg1)" stroke="#231f20" stroke-width="3"/>
<g clip-path="url(#c1)">
 <!-- halos / smears -->
 <g filter="url(#b4)" fill="#000" opacity="0.11">
  <rect x="289" y="626" width="34" height="20"/>
  <rect x="330" y="625" width="33" height="21"/>
  <rect x="450" y="616" width="32" height="24"/>
  <rect x="488" y="609" width="29" height="25"/>
  <rect x="173" y="606" width="34" height="46" opacity="1.4"/>
 </g>
 <g filter="url(#b1)" fill="#000">
  <path fill="url(#blobg)" d="M175.4 607.5L201 607.5C201.2 613 201.4 618 202.4 621.6C203.8 626.4 208.9 631.2 208.8 640C208.6 647.2 201 651.2 190 651.2C179 651.2 172.2 647.2 172 640C171.8 633 172.8 627.6 173.8 622.6C174.8 618 175 613 175.4 607.5Z"/>
  <rect x="289.3" y="632.6" width="33" height="14.6" rx="6.4"/>
  <path d="M336 633.4C342 632 352 631.6 357.6 632C361.4 632.4 363.2 635.4 363.2 639C363.2 643 361 646.2 357 646.6C350 647.2 341 647.6 335.6 647.4C331.6 647.2 329.6 644.6 329.6 640.8C329.6 637 332 634.4 336 633.4Z"/>
  <path d="M455.6 627C462 625.4 471 624.6 477 624.6C480.8 624.6 482.6 627.6 482.6 631C482.6 635 480.6 637.8 476.8 638.6C470 640 461.6 641.2 455.8 641.4C451.6 641.6 449.4 638.6 449.4 634.6C449.4 630.8 451.6 628 455.6 627Z"/>
  <path d="M491.4 623.2C497 620.6 505 617.2 510 616.6C514.2 616.2 516.6 619.6 516.8 624C517 628.4 516.4 632.2 514.4 632.8C510 631.6 500 632.8 493 634.6C489.2 635.4 487.4 633.2 487.4 629.6C487.4 626.4 488.6 624.6 491.4 623.2Z"/>
 </g>
 <g filter="url(#b1)" fill="#000">
  <rect x="215.5" y="639.8" width="24" height="3.4" rx="1.7" opacity="0.16"/>
  <rect x="256" y="639.8" width="20" height="3.2" rx="1.6" opacity="0.14"/>
  <rect x="374" y="636.4" width="27" height="3.6" rx="1.8" opacity="0.24"/>
  <rect x="416.5" y="635" width="24" height="3.6" rx="1.8" opacity="0.24"/>
 </g>
 <circle cx="463.5" cy="651.5" r="0.6" fill="#666"/><circle cx="508" cy="655" r="0.6" fill="#777"/>
</g>
<!-- Smac blot -->
<rect x="162.9" y="680.1" width="362.4" height="60.2" fill="url(#bg2)" stroke="#231f20" stroke-width="3"/>
<g clip-path="url(#c2)">
 <g filter="url(#b4)" fill="#000" opacity="0.15">
  <rect x="267" y="704" width="34" height="22"/>
  <rect x="310" y="704" width="37" height="24"/>
  <rect x="442" y="692" width="36" height="32" opacity="1.2"/>
  <rect x="484" y="686" width="34" height="36" opacity="1.3"/>
 </g>
 <g filter="url(#b1)" fill="#000">
  <rect x="266.6" y="711.8" width="34" height="13.8" rx="6.4"/>
  <path d="M317 711.6L325 712.3L328.5 714.3L333 712.3L341 711.6C345 711.6 347.4 714.8 347.4 718.4C347.4 722.2 345 725 341 725.4L334 727L328.5 731.2L323 727L316.5 725.4C312.5 725 310 722.2 310 718.4C310 714.8 312.5 711.6 317 711.6Z"/>
  <path d="M448 710C456 708.6 468 708.2 473 708.6C476.6 709 478.2 712 478.2 715.6C478.2 719.6 476.2 722.6 472.6 723.2C466 724 454 724.4 447.6 724.2C443.6 724 441.6 721.2 441.6 717.4C441.6 713.6 443.8 710.8 448 710Z"/>
  <path d="M487 705C492 702.6 503 700 509.6 700.6C514 701.2 516.4 706.6 517 712C517.4 716.4 517.2 720 516 720.6C514.4 719 512 716.6 508 715.4C502 714 494 716 489.4 716.8C485.8 717.4 484.2 714.6 484.2 711.2C484.2 708.2 485 706 487 705Z"/>
 </g>
 <g filter="url(#b1)" fill="#000">
  <rect x="355.5" y="713.8" width="10" height="4.2" rx="2.1" opacity="0.5"/>
  <rect x="362" y="715.2" width="23" height="3.6" rx="1.8" opacity="0.12"/>
  <rect x="401" y="716" width="29" height="4.4" rx="2.2" opacity="0.15"/>
  <rect x="174" y="715" width="26" height="3.4" rx="1.7" opacity="0.05"/>
  <rect x="222" y="716" width="24" height="3.4" rx="1.7" opacity="0.05"/>
 </g>
</g>


<!-- ================= PANEL C ================= -->
<text x="-1.6" y="791.4" font-size="30">C</text>
<text x="58.7" y="788.4" font-size="19.6" textLength="94.6" lengthAdjust="spacingAndGlyphs">membrane</text>
<text x="170.2" y="804.7" font-size="19.6">EtOH</text>
<text x="167.4" y="848" font-size="19.6">Drp-1</text>
<text x="102.6" y="916.6" font-size="19.6" textLength="115.2" lengthAdjust="spacingAndGlyphs">Prohibitin, 30</text>
<text x="251.9" y="802.9" font-size="22.6" text-anchor="middle">-</text>
<text x="312.9" y="805" font-size="19.6" text-anchor="middle">+</text>
<text x="375.4" y="802.9" font-size="22.6" text-anchor="middle">-</text>
<text x="433" y="803.4" font-size="19.6" text-anchor="middle">+</text>
<text x="475.2" y="802.5" font-size="19.6">kDa</text>
<text x="525" y="785.7" font-size="19.6">cytosol</text>
<text x="475.2" y="850.8" font-size="19.6">75</text>
<text x="474" y="919.3" font-size="19.6">Tubulin, 50</text>

<defs>
<linearGradient id="gg1" x1="0" x2="0" y1="0" y2="1">
<stop offset="0" stop-color="#14702f"/><stop offset="0.3" stop-color="#177a33"/><stop offset="1" stop-color="#187c34"/>
</linearGradient>
<linearGradient id="gg3" x1="0" x2="0" y1="0" y2="1">
<stop offset="0" stop-color="#136c2c"/><stop offset="0.45" stop-color="#188036"/><stop offset="1" stop-color="#167832"/>
</linearGradient>
<linearGradient id="fadeA" x1="0" x2="0" y1="0" y2="1">
<stop offset="0" stop-color="#4fd279" stop-opacity="0.5"/><stop offset="0.12" stop-color="#3fc068" stop-opacity="0.24"/><stop offset="0.5" stop-color="#2aa050" stop-opacity="0.12"/><stop offset="1" stop-color="#2aa050" stop-opacity="0.0"/>
</linearGradient>
<linearGradient id="bandA" x1="0" x2="0" y1="0" y2="1">
<stop offset="0" stop-color="#66ee8e"/><stop offset="0.45" stop-color="#55e07e"/><stop offset="0.75" stop-color="#3cc766"/><stop offset="1" stop-color="#27a04b"/>
</linearGradient>
<linearGradient id="bandB" x1="0" x2="0" y1="0" y2="1">
<stop offset="0" stop-color="#3fc96e"/><stop offset="0.12" stop-color="#56e287"/><stop offset="0.26" stop-color="#34b85f"/><stop offset="0.42" stop-color="#229446"/><stop offset="0.75" stop-color="#1a7d38"/><stop offset="1" stop-color="#0b441b"/>
</linearGradient>
<linearGradient id="bandD" x1="0" x2="0" y1="0" y2="1">
<stop offset="0" stop-color="#3fc46c"/><stop offset="0.25" stop-color="#52da80"/><stop offset="0.55" stop-color="#279c4c"/><stop offset="1" stop-color="#0d5624"/>
</linearGradient>
<clipPath id="g1c"><rect x="221.8" y="807.2" width="123.1" height="65.2"/></clipPath>
<clipPath id="g2c"><rect x="220.8" y="876.7" width="124.1" height="65.3"/></clipPath>
<clipPath id="g3c"><rect x="348.6" y="807.7" width="118.4" height="64.5"/></clipPath>
<clipPath id="g4c"><rect x="347.9" y="876.5" width="120.3" height="65.5"/></clipPath>
</defs>
<!-- G1 Drp-1 membrane -->
<rect x="221.8" y="807.2" width="123.1" height="65.2" fill="url(#gg1)"/>
<g clip-path="url(#g1c)">
 <rect x="277.5" y="836" width="11" height="38" fill="#0f5f27" opacity="0.2" filter="url(#b2)"/>
 <g filter="url(#b1)">
  <rect x="229.4" y="836.8" width="45.2" height="28" fill="url(#fadeA)"/>
  <rect x="291.8" y="833.6" width="46.2" height="30" fill="url(#fadeA)"/>
 </g>
 <circle cx="230.6" cy="839.6" r="1.6" fill="#63e58b" opacity="0.7" filter="url(#b3)"/>
 <ellipse cx="321.8" cy="823.2" rx="1.2" ry="0.9" fill="#8df5aa" opacity="0.85" filter="url(#b3)"/>
</g>
<!-- G2 prohibitin -->
<rect x="220.8" y="876.7" width="124.1" height="65.3" fill="#0a0806"/>
<rect x="220.8" y="941.2" width="124.1" height="0.8" fill="#8a8a8a"/>
<g clip-path="url(#g2c)">
 <g filter="url(#b4)" opacity="0.35">
  <rect x="221" y="901" width="53" height="14" fill="#1f9a45"/>
  <rect x="286.5" y="901" width="57" height="14" fill="#1f9a45"/>
 </g>
 <g filter="url(#b3)">
  <path d="M219 902.4C222 900.8 270 900.6 272.8 901.8C275.6 903.6 275.6 911 273 914C269.5 916.4 225 916.4 219 915.4Z" fill="url(#bandB)"/>
  <path d="M288.4 901.8C292 900.6 340 900.6 346 901.6L346 914.6C340 916.4 292 916.4 288.6 914C285.8 911 285.8 903.6 288.4 901.8Z" fill="url(#bandB)"/>
 </g>
</g>
<!-- G3 Drp-1 cytosol -->
<rect x="348.6" y="807.7" width="118.4" height="64.5" fill="url(#gg3)"/>
<g clip-path="url(#g3c)">
 <rect x="402" y="828" width="8.5" height="22" fill="#0d5a25" opacity="0.3" filter="url(#b2)"/>
 <g filter="url(#b4)" opacity="0.55">
  <rect x="352" y="834" width="48" height="13" fill="#3fd06c"/>
  <rect x="412.5" y="832" width="47" height="13" fill="#3fd06c"/>
 </g>
 <g filter="url(#b3)">
  <path d="M352 833.2C353.5 835.6 360 836.6 376 836.2C390 835.8 397.4 834.8 399.6 832.2C400.6 837 400.6 842.4 398.6 845.2C390 847.4 362 847.6 354 845.8C351.8 843 351.4 837.4 352 833.2Z" fill="url(#bandA)"/>
  <path d="M412.4 832.2C414 834.2 420 834.8 436 834.4C449 834 455.6 833 457.6 830.4C458.2 829.4 458.8 828.4 459.4 828.4C460.2 834 460.2 840.6 458 843.6C449 845.8 422 845.8 414.2 844.2C412.2 841.4 411.8 836.4 412.4 832.2Z" fill="url(#bandA)"/>
 </g>
 <circle cx="385.3" cy="828.2" r="0.9" fill="#7dffa0" opacity="0.8" filter="url(#b3)"/>
 <circle cx="393" cy="828" r="0.8" fill="#b0e070" opacity="0.7" filter="url(#b3)"/>
</g>
<!-- G4 tubulin -->
<rect x="347.9" y="876.5" width="120.3" height="65.5" fill="#042709"/>
<g clip-path="url(#g4c)">
 <rect x="347.9" y="876.5" width="120.3" height="22" fill="#021a05" opacity="0.55" filter="url(#b2)"/>
 <g filter="url(#b4)" opacity="0.6">
  <rect x="353" y="901" width="50.4" height="11" fill="#1f9a45"/>
  <rect x="414.6" y="901" width="48.4" height="11" fill="#1f9a45"/>
 </g>
 <g filter="url(#b1)">
  <path d="M353 901.4C356 903.2 370 903.8 380 903.6C392 903.4 400 902.8 403.4 901C404 905 403.6 908.6 401.6 910.8C392 912.6 364 912.6 356 911C353.6 909 352.6 905.4 353 901.4Z" fill="url(#bandD)" opacity="0.9"/>
  <path d="M414.6 901.4C417 903.2 430 903.8 440 903.6C452 903.4 459 902.8 462.8 901C463.4 905 463 908.6 461 910.8C452 912.6 425 912.6 417.4 911C415 909 414.2 905.4 414.6 901.4Z" fill="url(#bandD)" opacity="0.9"/>
 </g>
</g>

</g>
</svg>
</body>
</html>
